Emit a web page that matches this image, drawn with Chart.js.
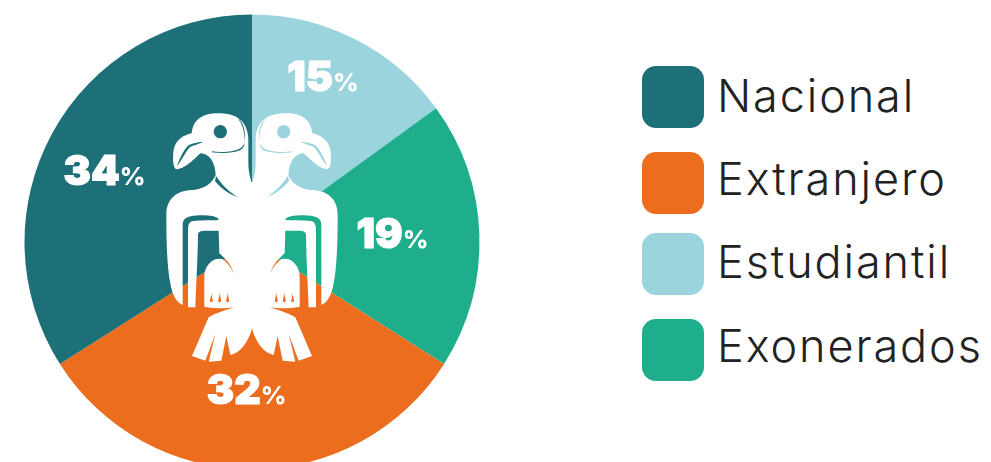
<!DOCTYPE html>
<html>
<head>
<meta charset="utf-8">
<script src="https://cdn.jsdelivr.net/npm/chart.js@4/dist/chart.umd.min.js"></script>
<style>
  html, body { margin: 0; padding: 0; width: 991px; height: 462px; overflow: hidden; background: #fff; }
  #mycanvas { position: absolute; left: 0; top: -10px; }
  .swatch { position: absolute; left: 642px; width: 62px; height: 62px; border-radius: 14px; }
  .name { position: absolute; left: 717px; height: 62px; line-height: 60px; font-family: Inter, sans-serif; font-weight: 300; font-size: 45px; letter-spacing: 1.9px; color: #222; white-space: nowrap; }
</style>
</head>
<body>
<canvas id="mycanvas" width="504" height="504"></canvas>
<script>
// slices, clockwise from the top
const categories = ["Estudiantil", "Exonerados", "Extranjero", "Nacional"];
const values = [15, 19, 32, 34];
const colors = ["#9bd4dd", "#1fae8b", "#ec6d1e", "#1d7078"];

// legend has its own order
const legendOrder = ["Nacional", "Extranjero", "Estudiantil", "Exonerados"];
const legendTops = [66, 152, 233, 319];
const legendTextTops = [66, 149, 232, 316];

// where each % label sits compared to the middle of its slice
const labelRadius = [180.4, 140.3, 147, 164.6];
const labelTurn = [-4, -1.9, 2.3, -2.8];

// emblem, traced at 3x, left half only (mirrored when drawn)
const axisX = 305, axisY = 426;
const emblemPath =
  "M306 248 L303 245 C297 225 294 210 294 180 L294 115 C292 75 270 45 225 41 C175 36 130 45 124 100 " +
  "C100 105 75 120 70 150 C66 175 68 205 78 208 C100 208 130 180 150 160 C175 160 195 185 196 225 " +
  "C185 250 165 265 130 270 C75 270 48 300 48 345 C48 420 50 500 60 550 C66 585 78 608 97 615 " +
  "L97 375 C97 355 110 347 150 346 C180 346 205 350 205 360 C170 362 140 360 125 364 C115 368 113 378 113 390 " +
  "L113 622 L135 622 C137 560 142 480 143 405 C143 395 150 392 165 392 L205 392 L207 460 L222 474 " +
  "C238 490 248 508 251 525 C245 505 232 490 218 478 C208 474 195 476 185 483 C170 495 162 510 162 530 " +
  "L162 620 C195 625 225 627 255 621 C225 630 200 637 175 652 L125 768 L165 782 L195 702 L175 785 L213 782 " +
  "L228 708 L240 765 C270 760 295 725 305 685 L306 685 Z " +
  // eye
  "M230 95 A20 20 0 1 0 190 95 A20 20 0 1 0 230 95 Z " +
  // neck line
  "M197 228 C215 255 240 280 265 292 C235 282 212 265 194 243 Z " +
  // beak line
  "M80 198 C88 175 100 150 115 135 C130 128 145 126 160 125 C145 132 130 136 120 140 C105 155 95 180 80 198 Z " +
  // face lines
  "M185 154 C215 158 255 155 272 143 C278 138 281 132 283 128 C282 145 270 152 255 155 C235 159 205 160 185 157 Z " +
  "M262 55 C280 65 286 95 284 125 C282 90 275 70 262 55 Z " +
  // claws
  "M183 582 L188 605 L178 605 Z M208 580 L213 605 L203 605 Z M232 580 L237 605 L227 605 Z";

const emblemPlugin = {
  id: "emblem",
  afterDatasetsDraw(chart) {
    let ctx = chart.ctx;
    let arc = chart.getDatasetMeta(0).data[0];
    let path = new Path2D(emblemPath);
    ctx.save();
    ctx.translate(arc.x, arc.y);
    ctx.scale(1 / 3, 1 / 3);
    ctx.translate(-axisX, -axisY);
    ctx.fillStyle = "#fff";
    ctx.fill(path, "evenodd");
    ctx.translate(axisX * 2, 0);
    ctx.scale(-1, 1);
    ctx.fill(path, "evenodd");
    ctx.restore();
  },
};

const bigFont = "900 41px Inter, sans-serif";
const smallFont = "800 25px Inter, sans-serif";

const percentPlugin = {
  id: "percentLabels",
  afterDatasetsDraw(chart) {
    let ctx = chart.ctx;
    ctx.save();
    ctx.fillStyle = "#fff";
    ctx.strokeStyle = "#fff";
    ctx.lineWidth = 1.2;
    ctx.textBaseline = "alphabetic";
    chart.getDatasetMeta(0).data.forEach((arc, i) => {
      let mid = (arc.startAngle + arc.endAngle) / 2 + labelTurn[i] * Math.PI / 180;
      let x = arc.x + 0.5 + Math.cos(mid) * labelRadius[i];
      let y = arc.y + Math.sin(mid) * labelRadius[i] + 15;
      let big = String(values[i]);
      ctx.font = bigFont;
      let bigWidth = ctx.measureText(big).width;
      ctx.font = smallFont;
      let smallWidth = ctx.measureText("%").width;
      let left = x - (bigWidth + smallWidth) / 2;
      ctx.font = bigFont;
      ctx.fillText(big, left, y);
      ctx.strokeText(big, left, y);
      ctx.font = smallFont;
      ctx.fillText("%", left + bigWidth, y);
    });
    ctx.restore();
  },
};

new Chart(document.getElementById("mycanvas"), {
  type: "pie",
  data: {
    labels: categories,
    datasets: [{ data: values, backgroundColor: colors, borderWidth: 0 }],
  },
  options: {
    responsive: false,
    animation: false,
    layout: { padding: 24.5 },
    plugins: { legend: { display: false }, tooltip: { enabled: false } },
  },
  plugins: [emblemPlugin, percentPlugin],
});

legendOrder.forEach((name, i) => {
  let swatch = document.createElement("div");
  swatch.className = "swatch";
  swatch.style.top = legendTops[i] + "px";
  swatch.style.background = colors[categories.indexOf(name)];
  document.body.appendChild(swatch);

  let label = document.createElement("div");
  label.className = "name";
  label.style.top = legendTextTops[i] + "px";
  label.textContent = name;
  document.body.appendChild(label);
});
</script>
</body>
</html>
